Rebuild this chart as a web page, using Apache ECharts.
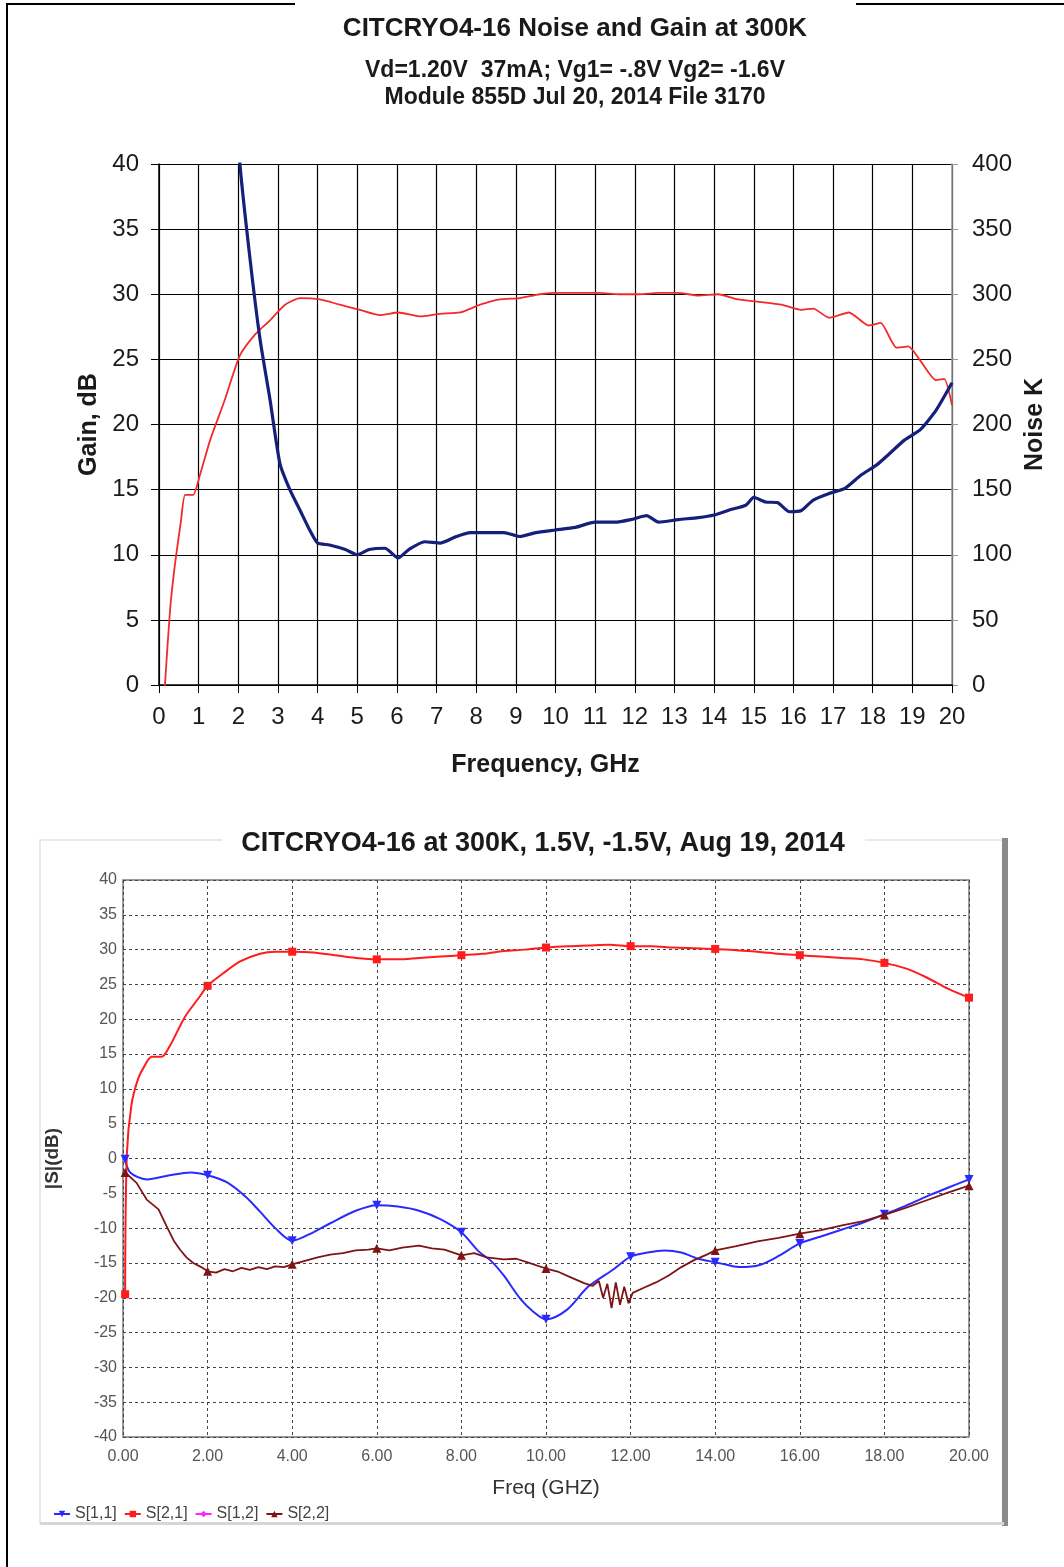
<!DOCTYPE html>
<html><head><meta charset="utf-8">
<script src="https://cdn.jsdelivr.net/npm/echarts@6/dist/echarts.min.js"></script>
<style>html,body{margin:0;padding:0;background:#fff}#c{width:1064px;height:1567px}</style>
</head><body><div id="c"></div>
<script>
// ---- Top chart: Noise and Gain ----
const topGainFreq = [0.1,0.15,0.28,0.4,0.55,0.66,0.86,1.03,1.29,1.66,2.04,2.42,2.8,3.18,3.56,4.06,4.56,5.07,5.57,6.03,6.58,7.09,7.6,8.1,8.6,9.1,9.6,10.1,10.6,11.1,11.6,12.1,12.6,13.1,13.6,14.1,14.6,15.2,15.7,16.2,16.5,16.9,17.4,17.9,18.2,18.6,18.9,19.2,19.6,19.8,20.0];
const topGainDb   = [-3,0,5.8,9.2,12.5,14.6,14.6,16.1,18.8,21.9,25.3,26.9,28.0,29.2,29.7,29.6,29.2,28.8,28.4,28.6,28.3,28.5,28.6,29.2,29.6,29.7,30.0,30.1,30.1,30.1,30.0,30.0,30.1,30.1,29.9,30.0,29.6,29.4,29.2,28.8,28.9,28.2,28.6,27.6,27.8,25.9,26.0,24.9,23.4,23.5,21.5];
const topNoiseFreq = [1.97,2.04,2.3,2.55,2.8,3.05,3.3,3.56,3.8,4.0,4.3,4.7,5.0,5.3,5.7,6.03,6.3,6.7,7.1,7.5,7.85,8.35,8.7,9.1,9.5,10.0,10.5,11.0,11.5,11.9,12.3,12.6,13.1,13.6,14.0,14.4,14.8,15.0,15.3,15.6,15.9,16.2,16.5,16.9,17.3,17.7,18.1,18.4,18.8,19.2,19.6,20.0];
const topNoiseK    = [440,400,326,265,219,170,150,134,119,109,107.5,104,100,104,105,97.5,104,110,109,114,117,117,117,114,117,119,121,125,125,127,130,125,127,128.5,130.5,134.5,138,144,140.5,140,133,134,142,147,151,161,169,177,188,196,211,232];
const topXTicks = [0,20,1];       // min, max, step (GHz)
const topGainTicks = [0,40,5];    // dB
const topNoiseTicks = [0,400,50]; // K

// ---- Bottom chart: S-parameters ----
const s11Freq = [0.05,0.17,0.56,1.1,1.6,2.0,2.45,2.9,3.25,3.6,4.0,4.5,4.9,5.5,6.0,6.5,7.0,7.5,8.0,8.4,8.7,9.0,9.4,9.7,10.0,10.5,11.0,11.6,12.0,12.4,12.8,13.2,13.6,14.0,14.3,14.6,15.05,15.5,16.0,16.5,17.0,17.5,18.0,18.5,19.1,19.5,20.0];
const s11Db   = [-0.1,-2.0,-3.0,-2.4,-2.0,-2.4,-3.4,-5.5,-7.7,-10.0,-11.8,-10.6,-9.3,-7.5,-6.7,-6.9,-7.5,-8.7,-10.6,-13.3,-14.7,-16.8,-20.2,-22.0,-23.1,-21.7,-18.4,-15.9,-14.1,-13.5,-13.2,-13.5,-14.4,-14.9,-15.3,-15.6,-15.3,-14.0,-12.2,-11.2,-10.2,-9.2,-8.0,-6.8,-5.2,-4.2,-3.0];
const s21Freq = [0.05,0.09,0.2,0.36,0.5,0.68,0.91,1.11,1.46,1.82,2.0,2.37,2.77,3.24,3.6,4.0,4.5,5.0,5.5,6.0,6.5,7.0,7.5,8.0,8.5,9.0,9.5,10.0,10.5,11.0,11.5,12.0,12.5,13.0,13.5,14.0,14.5,15.0,15.5,16.0,16.5,17.0,17.5,18.0,18.5,19.0,19.5,20.0];
const s21Db   = [-19.5,0.5,7.7,11.5,13.2,14.6,14.6,16.2,20.3,23.3,24.8,26.6,28.3,29.4,29.7,29.7,29.6,29.2,28.8,28.6,28.6,28.8,29.0,29.2,29.4,29.8,30.0,30.3,30.5,30.6,30.7,30.5,30.5,30.3,30.2,30.1,29.9,29.7,29.4,29.2,29.0,28.8,28.6,28.1,27.3,26.0,24.4,23.1];
const s12Freq = [];
const s12Db   = [];
const s22Freq = [0.05,0.32,0.56,0.84,1.03,1.2,1.35,1.5,1.66,1.85,2.0,2.2,2.4,2.6,2.8,3.0,3.2,3.4,3.6,3.8,4.0,4.3,4.6,4.9,5.2,5.5,5.8,6.0,6.3,6.6,7.0,7.3,7.6,8.0,8.3,8.6,9.0,9.3,9.6,10.0,10.3,10.6,10.9,11.1,11.25,11.35,11.45,11.55,11.65,11.75,11.85,11.95,12.05,12.3,12.6,12.9,13.2,13.5,13.8,14.0,14.5,15.0,15.5,16.0,16.5,17.0,17.5,18.0,18.5,19.0,19.5,20.0];
const s22Db   = [-2.0,-3.5,-5.9,-7.3,-9.7,-11.8,-13.1,-14.2,-15.0,-15.6,-16.2,-16.4,-15.9,-16.2,-15.7,-16.0,-15.6,-15.9,-15.5,-15.6,-15.2,-14.7,-14.2,-13.8,-13.6,-13.2,-13.1,-12.9,-13.2,-12.8,-12.5,-12.9,-13.1,-13.9,-13.6,-14.2,-14.5,-14.4,-15.0,-15.8,-16.3,-17.1,-17.9,-18.3,-17.6,-20.0,-18.0,-21.5,-17.8,-21.0,-18.4,-20.8,-19.3,-18.6,-17.8,-16.8,-15.6,-14.6,-13.8,-13.2,-12.6,-11.9,-11.4,-10.8,-10.3,-9.6,-9.0,-8.1,-7.1,-6.0,-4.9,-3.9];
const sMarkerFreqs = [0.05,2,4,6,8,10,12,14,16,18,20];
const botXTicks = [0,20,2];
const botYTicks = [-40,40,5];

const FONT = "'Liberation Sans', Arial, sans-serif";
const pairs = (xs, ys) => xs.map((x, i) => [x, ys[i]]);
const marked = (xs, ys, sym) => xs.map((x, i) => ({
  value: [x, ys[i]],
  symbol: sMarkerFreqs.includes(x) ? sym : 'none'
}));

const chart = echarts.init(document.getElementById('c'), null, {renderer: 'canvas'});

const option = {
  backgroundColor: '#fff',
  animation: false,
  graphic: [
    // outer frame
    {type: 'line', shape: {x1: 7, y1: 3, x2: 7, y2: 1567}, style: {stroke: '#000', lineWidth: 2}},
    {type: 'line', shape: {x1: 6, y1: 4, x2: 295, y2: 4}, style: {stroke: '#000', lineWidth: 2}},
    {type: 'line', shape: {x1: 856, y1: 4, x2: 1064, y2: 4}, style: {stroke: '#000', lineWidth: 2}},
    // top titles
    {type: 'text', style: {x: 575, y: 29, text: 'CITCRYO4-16 Noise and Gain at 300K', textAlign: 'center', textVerticalAlign: 'middle', font: 'bold 26px ' + FONT, fill: '#1a1a1a'}},
    {type: 'text', style: {x: 575, y: 71, text: 'Vd=1.20V  37mA; Vg1= -.8V Vg2= -1.6V', textAlign: 'center', textVerticalAlign: 'middle', font: 'bold 23px ' + FONT, fill: '#1a1a1a'}},
    {type: 'text', style: {x: 575, y: 98, text: 'Module 855D Jul 20, 2014 File 3170', textAlign: 'center', textVerticalAlign: 'middle', font: 'bold 23px ' + FONT, fill: '#1a1a1a'}},
    // bottom panel
    {type: 'rect', shape: {x: 40, y: 840, width: 963, height: 683}, style: {fill: 'none', stroke: '#e2e2e2', lineWidth: 1.5}, z: -1},
    {type: 'rect', shape: {x: 1002, y: 838, width: 6, height: 688}, style: {fill: '#8a8a8a'}, z: -1},
    {type: 'rect', shape: {x: 40, y: 1522, width: 964, height: 3}, style: {fill: '#d8d6d2'}, z: -1},
    {type: 'rect', shape: {x: 222, y: 822, width: 643, height: 36}, style: {fill: '#fff'}, z: 0},
    {type: 'text', style: {x: 543, y: 844, text: 'CITCRYO4-16 at 300K, 1.5V, -1.5V, Aug 19, 2014', textAlign: 'center', textVerticalAlign: 'middle', font: 'bold 27px ' + FONT, fill: '#1a1a1a'}, z: 1}
  ],
  grid: [
    {left: 159, top: 164, width: 793, height: 521, containLabel: false},
    {left: 123, top: 880, width: 846, height: 557, containLabel: false, show: true, borderColor: '#7a7a7a', borderWidth: 1.5}
  ],
  legend: {
    left: 48, top: 1501, itemWidth: 16, itemHeight: 8, itemGap: 7,
    textStyle: {fontFamily: FONT, fontSize: 16, color: '#444'},
    data: ['S[1,1]', 'S[2,1]', 'S[1,2]', 'S[2,2]']
  },
  xAxis: [
    {
      gridIndex: 0, type: 'value', min: topXTicks[0], max: topXTicks[1], interval: topXTicks[2],
      name: 'Frequency, GHz', nameLocation: 'middle', nameGap: 68,
      nameTextStyle: {fontFamily: FONT, fontSize: 25, fontWeight: 'bold', color: '#1a1a1a', padding: [0, 20, 0, 0]},
      axisLine: {lineStyle: {color: '#000', width: 1.5}},
      axisTick: {show: true, length: 8, lineStyle: {color: '#000'}},
      axisLabel: {fontFamily: FONT, fontSize: 24, color: '#1a1a1a', margin: 20},
      splitLine: {show: true, lineStyle: {color: '#000', width: 1.2}}
    },
    {
      gridIndex: 1, type: 'value', min: botXTicks[0], max: botXTicks[1], interval: botXTicks[2],
      name: 'Freq (GHZ)', nameLocation: 'middle', nameGap: 41,
      nameTextStyle: {fontFamily: FONT, fontSize: 21, color: '#333'},
      axisLine: {show: false},
      axisTick: {show: false},
      axisLabel: {fontFamily: FONT, fontSize: 16, color: '#555', margin: 12, formatter: v => v.toFixed(2)},
      splitLine: {show: true, lineStyle: {color: '#444', width: 1, type: [3, 3]}}
    }
  ],
  yAxis: [
    {
      gridIndex: 0, type: 'value', min: topGainTicks[0], max: topGainTicks[1], interval: topGainTicks[2],
      name: 'Gain, dB', nameLocation: 'middle', nameGap: 56,
      nameTextStyle: {fontFamily: FONT, fontSize: 25, fontWeight: 'bold', color: '#1a1a1a'},
      axisLine: {show: true, lineStyle: {color: '#000', width: 1.5}},
      axisTick: {show: true, length: 8, lineStyle: {color: '#000'}},
      axisLabel: {fontFamily: FONT, fontSize: 24, color: '#1a1a1a', margin: 20},
      splitLine: {show: true, lineStyle: {color: '#000', width: 1.2}}
    },
    {
      gridIndex: 0, type: 'value', position: 'right', min: topNoiseTicks[0], max: topNoiseTicks[1], interval: topNoiseTicks[2],
      name: 'Noise K', nameLocation: 'middle', nameGap: 62, nameRotate: 90,
      nameTextStyle: {fontFamily: FONT, fontSize: 25, fontWeight: 'bold', color: '#1a1a1a'},
      axisLine: {show: true, lineStyle: {color: '#999', width: 1.5}},
      axisTick: {show: true, length: 6, lineStyle: {color: '#999'}},
      axisLabel: {fontFamily: FONT, fontSize: 24, color: '#1a1a1a', margin: 20},
      splitLine: {show: false}
    },
    {
      gridIndex: 1, type: 'value', min: botYTicks[0], max: botYTicks[1], interval: botYTicks[2],
      name: '|S|(dB)', nameLocation: 'middle', nameGap: 61,
      nameTextStyle: {fontFamily: FONT, fontSize: 19, fontWeight: 'bold', color: '#333'},
      axisLine: {show: false},
      axisTick: {show: false},
      axisLabel: {fontFamily: FONT, fontSize: 16, color: '#555', margin: 6},
      splitLine: {show: true, lineStyle: {color: '#444', width: 1, type: [3, 3]}}
    }
  ],
  series: [
    {
      name: 'Gain', type: 'line', xAxisIndex: 0, yAxisIndex: 0, showSymbol: false, symbol: 'none',
      smooth: 0.2, clip: true,
      lineStyle: {color: '#f22a2a', width: 1.8}, itemStyle: {color: '#f22a2a'},
      data: pairs(topGainFreq, topGainDb)
    },
    {
      name: 'Noise', type: 'line', xAxisIndex: 0, yAxisIndex: 1, showSymbol: false, symbol: 'none',
      smooth: 0.2, clip: true,
      lineStyle: {color: '#15207a', width: 3.2}, itemStyle: {color: '#15207a'},
      data: pairs(topNoiseFreq, topNoiseK)
    },
    {
      name: 'S[1,1]', type: 'line', xAxisIndex: 1, yAxisIndex: 2, symbol: 'triangle', symbolRotate: 180, symbolSize: 9,
      smooth: 0.3, lineStyle: {color: '#2a2aff', width: 2}, itemStyle: {color: '#2a2aff'},
      data: marked(s11Freq, s11Db, 'triangle')
    },
    {
      name: 'S[2,1]', type: 'line', xAxisIndex: 1, yAxisIndex: 2, symbol: 'rect', symbolSize: 8,
      smooth: 0.3, lineStyle: {color: '#ff1c1c', width: 2}, itemStyle: {color: '#ff1c1c'},
      data: marked(s21Freq, s21Db, 'rect')
    },
    {
      name: 'S[1,2]', type: 'line', xAxisIndex: 1, yAxisIndex: 2, symbol: 'diamond', symbolSize: 9,
      lineStyle: {color: '#ff22ff', width: 2}, itemStyle: {color: '#ff22ff'},
      data: marked(s12Freq, s12Db, 'diamond')
    },
    {
      name: 'S[2,2]', type: 'line', xAxisIndex: 1, yAxisIndex: 2, symbol: 'triangle', symbolSize: 9,
      lineStyle: {color: '#7e1414', width: 1.8}, itemStyle: {color: '#7e1414'},
      data: marked(s22Freq, s22Db, 'triangle')
    }
  ]
};
chart.setOption(option);
</script>
</body></html>
